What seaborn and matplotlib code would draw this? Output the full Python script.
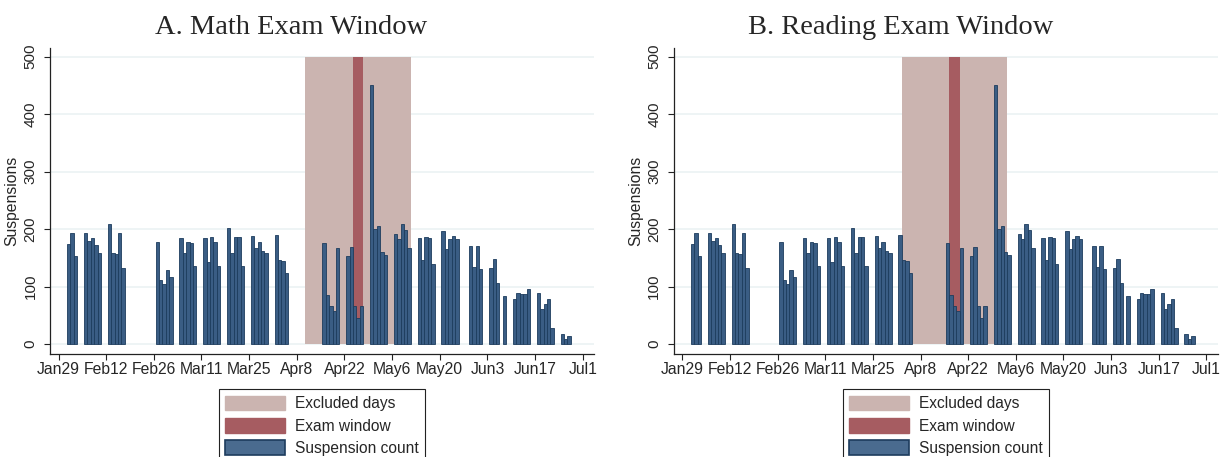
import matplotlib
matplotlib.use("Agg")
import matplotlib.pyplot as plt
import matplotlib.dates as mdates
from matplotlib.patches import Patch
from matplotlib.ticker import FuncFormatter
import seaborn as sns
import pandas as pd
import numpy as np

# ---------------- data ----------------
dates = [
    "2012-02-01", "2012-02-02", "2012-02-03",
    "2012-02-06", "2012-02-07", "2012-02-08", "2012-02-09", "2012-02-10",
    "2012-02-13", "2012-02-14", "2012-02-15", "2012-02-16", "2012-02-17",
    "2012-02-27", "2012-02-28", "2012-02-29", "2012-03-01", "2012-03-02",
    "2012-03-05", "2012-03-06", "2012-03-07", "2012-03-08", "2012-03-09",
    "2012-03-12", "2012-03-13", "2012-03-14", "2012-03-15", "2012-03-16",
    "2012-03-19", "2012-03-20", "2012-03-21", "2012-03-22", "2012-03-23",
    "2012-03-26", "2012-03-27", "2012-03-28", "2012-03-29", "2012-03-30",
    "2012-04-02", "2012-04-03", "2012-04-04", "2012-04-05",
    "2012-04-16", "2012-04-17", "2012-04-18", "2012-04-19", "2012-04-20",
    "2012-04-23", "2012-04-24", "2012-04-25", "2012-04-26", "2012-04-27",
    "2012-04-30", "2012-05-01", "2012-05-02", "2012-05-03", "2012-05-04",
    "2012-05-07", "2012-05-08", "2012-05-09", "2012-05-10", "2012-05-11",
    "2012-05-14", "2012-05-15", "2012-05-16", "2012-05-17", "2012-05-18",
    "2012-05-21", "2012-05-22", "2012-05-23", "2012-05-24", "2012-05-25",
    "2012-05-29", "2012-05-30", "2012-05-31", "2012-06-01",
    "2012-06-04", "2012-06-05", "2012-06-06", "2012-06-08",
    "2012-06-11", "2012-06-12", "2012-06-13", "2012-06-14", "2012-06-15",
    "2012-06-18", "2012-06-19", "2012-06-20", "2012-06-21", "2012-06-22",
    "2012-06-25", "2012-06-26", "2012-06-27",
]
suspensions = [
    174, 194, 153,
    194, 179, 184, 172, 158,
    208, 158, 157, 194, 132,
    178, 111, 104, 129, 117,
    184, 158, 178, 175, 136,
    184, 142, 186, 178, 135,
    202, 158, 186, 186, 135,
    188, 167, 178, 161, 158,
    189, 146, 144, 123,
    175, 85, 67, 57, 167,
    153, 169, 66, 45, 66,
    450, 200, 205, 160, 155,
    191, 182, 209, 198, 167,
    184, 146, 186, 184, 139,
    196, 165, 183, 188, 183,
    170, 134, 170, 131,
    132, 148, 106, 83,
    78, 88, 87, 87, 95,
    88, 61, 69, 78, 28,
    17, 8, 14,
]

panel_titles = ["A. Math Exam Window", "B. Reading Exam Window"]
excluded_windows = [("2012-04-11", "2012-05-11"), ("2012-04-03", "2012-05-03")]
exam_windows = [("2012-04-25", "2012-04-27"), ("2012-04-17", "2012-04-19")]
tick_start = "2012-01-29"
legend_labels = ["Excluded days", "Exam window", "Suspension count"]

# ---------------- style ----------------
EXCL = "#cbb4b0"
EXAM = "#a65c61"
BAR = "#3a5d84"
BAR_EDGE = "#1d3c5d"
LEG_BAR = "#4a6b8f"
GRID = "#e9f1f3"

sns.set_theme(style="white")
plt.rcParams["font.family"] = ["Liberation Sans", "DejaVu Sans"]

fig = plt.figure(figsize=(12.25, 4.57), dpi=100)
W, H = 1225, 457
ax_w = 544 / W
ax_b = 1 - 353.5 / H
ax_h = (353.5 - 47.7) / H
axes = [fig.add_axes([50 / W, ax_b, ax_w, ax_h]),
        fig.add_axes([673.7 / W, ax_b, ax_w, ax_h])]
title_x = [291 / W, 901 / W]

df = pd.DataFrame({"day": mdates.date2num(pd.to_datetime(dates)),
                   "count": suspensions})
t0 = mdates.date2num(pd.Timestamp(tick_start))
ticks = t0 + 14 * np.arange(12)


def fmt(x, pos):
    d = mdates.num2date(x)
    return f"{d:%b}{d.day}"


for ax, title, excl, exam, tx in zip(axes, panel_titles, excluded_windows,
                                     exam_windows, title_x):
    e0, e1 = mdates.date2num(pd.to_datetime(list(excl)))
    x0, x1 = mdates.date2num(pd.to_datetime(list(exam)))
    ax.fill_between([e0 - 0.5, e1 + 0.5], 0, 500, color=EXCL, lw=0, zorder=1)
    ax.fill_between([x0 - 0.5, x1 + 0.5], 0, 500, color=EXAM, lw=0, zorder=2)
    sns.barplot(data=df, x="day", y="count", native_scale=True, orient="x",
                width=1, color=BAR, saturation=1, edgecolor=BAR_EDGE,
                linewidth=0.6, errorbar=None, ax=ax, zorder=3)

    ax.set_xlim(t0 - 2.5, t0 + 157.3)
    ax.set_ylim(-16.5, 515.5)
    ax.set_xticks(ticks)
    ax.xaxis.set_major_formatter(FuncFormatter(fmt))
    ax.set_yticks(np.arange(0, 501, 100))
    ax.set_axisbelow(True)
    ax.yaxis.grid(True, color=GRID, lw=1.1)
    ax.xaxis.grid(False)
    for s in ["top", "right"]:
        ax.spines[s].set_visible(False)
    for s in ["left", "bottom"]:
        ax.spines[s].set_color("#222222")
        ax.spines[s].set_linewidth(0.9)
    ax.tick_params(axis="x", direction="out", length=4.2, width=0.8,
                   color="#222222", labelsize=11.3, pad=2, bottom=True)
    ax.tick_params(axis="y", direction="out", length=4, width=0.8,
                   color="#222222", labelsize=11, pad=5, left=True)
    for lab in ax.get_yticklabels():
        lab.set_rotation(90)
        lab.set_va("center")
    ax.set_xlabel("")
    ax.set_ylabel("Suspensions", fontsize=11.3, labelpad=3)

    fig.text(tx, 1 - 34.3 / H, title, ha="center", va="baseline",
             fontsize=20.5, family=["Liberation Serif", "DejaVu Serif"])

    handles = [Patch(facecolor=EXCL, edgecolor=EXCL),
               Patch(facecolor=EXAM, edgecolor=EXAM),
               Patch(facecolor=LEG_BAR, edgecolor=BAR_EDGE, linewidth=1.2)]
    leg = ax.legend(handles, legend_labels, loc="upper center",
                    bbox_to_anchor=(0.5, -(389.3 - 353.5) / (353.5 - 47.7)),
                    frameon=True, fancybox=False, framealpha=1,
                    edgecolor="#222222", fontsize=11.2, handlelength=3.85,
                    handleheight=1.1, labelspacing=0.42, borderpad=0.4,
                    handletextpad=0.65, borderaxespad=0)
    leg.get_frame().set_linewidth(0.8)

fig.savefig("out.png", dpi=100)
